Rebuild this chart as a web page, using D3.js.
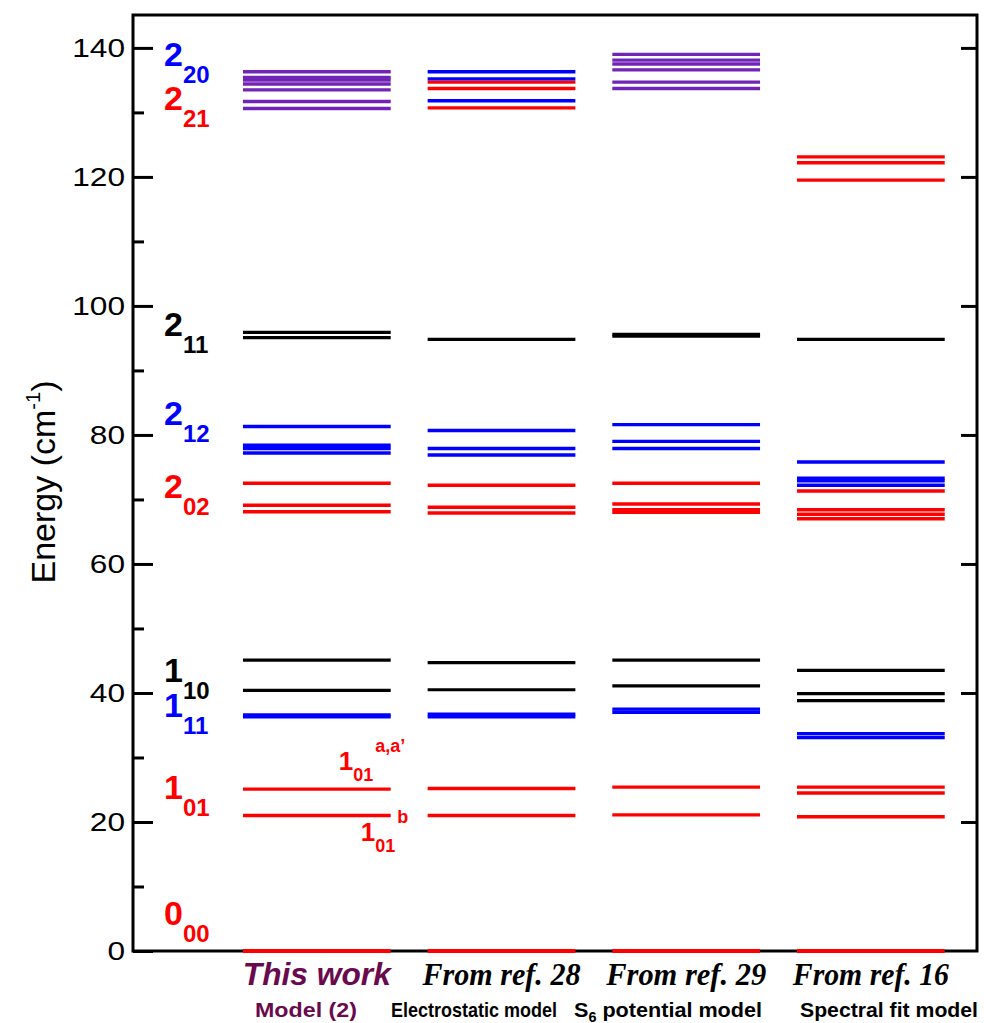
<!DOCTYPE html>
<html>
<head>
<meta charset="utf-8">
<script src="https://cdn.jsdelivr.net/npm/d3@7"></script>
<style>
  body { margin: 0; background: white; }
</style>
</head>
<body>
<svg id="chart"></svg>
<script>
// column titles
var columns = ["This work", "From ref. 28", "From ref. 29", "From ref. 16"];
var models = ["Model (2)", "Electrostatic model", "S6 potential model", "Spectral fit model"];

// energy levels (cm-1), one list per column
var e000 = [[0], [0], [0], [0]];
var e101 = [[21.0, 25.1], [21.0, 25.2], [21.1, 25.4], [20.8, 24.5, 25.4]];
var e111 = [[36.3, 36.6], [36.3, 36.7], [37.0, 37.5], [33.1, 33.7]];
var e110 = [[40.4, 45.1], [40.5, 44.7], [41.1, 45.1], [38.8, 39.9, 43.5]];
var e202 = [[68.1, 69.1, 72.5], [67.9, 68.8, 72.2], [68.0, 68.4, 69.3, 72.5], [67.0, 67.7, 68.4, 71.3]];
var e212 = [[77.2, 77.9, 78.4, 81.3], [76.9, 77.9, 80.7], [77.9, 79.0, 81.6], [72.2, 72.9, 73.3, 75.8]];
var e211 = [[95.1, 95.9], [94.8], [95.3, 95.6], [94.8]];
var e221 = [[], [130.7, 133.7, 134.7], [], [119.5, 122.2, 123.1]];
var e220 = [[], [131.8, 135.2, 136.3], [], []];
var e22mix = [[130.6, 131.7, 133.5, 134.4, 135.0, 135.4, 136.3], [], [133.7, 134.7, 136.6, 137.5, 138.1, 139.0], []];

var yTicks = [0, 20, 40, 60, 80, 100, 120, 140];
var yMinor = [10, 30, 50, 70, 90, 110, 130];

// state labels on the left: main number, subscript, energy of label
var stateMain = ["2", "2", "2", "2", "2", "1", "1", "1", "0"];
var stateSub = ["20", "21", "11", "12", "02", "10", "11", "01", "00"];
var stateEnergy = [137.2, 130.3, 95.3, 81.6, 70.3, 41.7, 36.3, 23.6, 4.0];

var red = "#ff0000", blue = "#0000ff", black = "#000000", purple = "#7124b6";
var stateColor = [blue, red, black, blue, red, black, blue, red, red];

var groups = [
  {v: e000, c: red, w: 4},
  {v: e101, c: red, w: 3.4},
  {v: e111, c: blue, w: 3.4},
  {v: e110, c: black, w: 3.2},
  {v: e202, c: red, w: 3.4},
  {v: e212, c: blue, w: 3.4},
  {v: e211, c: black, w: 3.2},
  {v: e221, c: red, w: 3.4},
  {v: e220, c: blue, w: 3.4},
  {v: e22mix, c: purple, w: 3.4}
];

var W = 984, H = 1023;
var mLeft = 133, mRight = 977, mTop = 15, mBottom = 951;
var sans = "Liberation Sans, Arial, sans-serif";
var serif = "Liberation Serif, Times New Roman, serif";

var svg = d3.select("#chart")
            .attr("width", W).attr("height", H)
            .attr("font-family", sans);

var y = d3.scaleLinear().domain([0, 145.1]).range([mBottom, mTop]);
var x = d3.scaleBand().domain(columns).range([224.5, 963.2])
          .paddingInner(0.2).paddingOuter(0.1);

/* axes */
svg.append("g")
   .attr("transform", "translate(" + mLeft + ",0)")
   .call(d3.axisLeft(y).tickValues(yTicks).tickSize(-20).tickPadding(8))
   .call(function(g) {
     g.select(".domain").remove();
     g.selectAll(".tick line").attr("stroke-width", 3);
     g.selectAll(".tick text")
      .attr("font-size", 26)
      .attr("font-family", sans)
      .attr("textLength", function(d) { return String(d).length * 17.6; })
      .attr("lengthAdjust", "spacingAndGlyphs");
   });

svg.append("g")
   .attr("transform", "translate(" + mLeft + ",0)")
   .call(d3.axisLeft(y).tickValues(yMinor).tickSize(-11).tickFormat(""))
   .call(function(g) {
     g.select(".domain").remove();
     g.selectAll(".tick line").attr("stroke-width", 3);
   });

svg.append("g")
   .attr("transform", "translate(" + mRight + ",0)")
   .call(d3.axisRight(y).tickValues(yTicks.slice(1)).tickSize(-16).tickFormat(""))
   .call(function(g) {
     g.select(".domain").remove();
     g.selectAll(".tick line").attr("stroke-width", 3);
   });

svg.append("rect")
   .attr("x", mLeft).attr("y", mTop)
   .attr("width", mRight - mLeft).attr("height", mBottom - mTop)
   .attr("fill", "none").attr("stroke", "black").attr("stroke-width", 3);

/* energy levels */
var levels = [];
groups.forEach(function(gr)
{
  gr.v.forEach(function(list, i)
  {
    list.forEach(function(e)
    {
      levels.push({col: columns[i], e: e, c: gr.c, w: gr.w});
    });
  });
});

svg.selectAll("line.level")
   .data(levels)
   .enter()
   .append("line")
   .attr("class", "level")
   .attr("x1", function(d) { return x(d.col); })
   .attr("x2", function(d) { return x(d.col) + x.bandwidth(); })
   .attr("y1", function(d) { return y(d.e); })
   .attr("y2", function(d) { return y(d.e); })
   .attr("stroke", function(d) { return d.c; })
   .attr("stroke-width", function(d) { return d.w; });

/* state labels on the left */
var lab = svg.selectAll("text.state")
   .data(stateMain)
   .enter()
   .append("text")
   .attr("class", "state")
   .attr("x", 164)
   .attr("y", function(d, i) { return y(stateEnergy[i]); })
   .attr("fill", function(d, i) { return stateColor[i]; })
   .attr("font-weight", "bold");

lab.append("tspan").attr("font-size", 34).text(function(d) { return d; });
lab.append("tspan").attr("font-size", 24).attr("dy", 17)
   .text(function(d, i) { return stateSub[i]; });

/* labels next to the 1_01 levels */
var c0 = x(columns[0]) + x.bandwidth();
var t1 = svg.append("text")
   .attr("x", c0 - 52).attr("y", y(e101[0][1]) - 19)
   .attr("fill", red).attr("font-weight", "bold");
t1.append("tspan").attr("font-size", 26).text("1");
t1.append("tspan").attr("font-size", 18).attr("dy", 11).text("01");
t1.append("tspan").attr("font-size", 18).attr("dy", -29).attr("dx", 2).text("a,a\u2019");

var t2 = svg.append("text")
   .attr("x", c0 - 30).attr("y", y(e101[0][0]) + 25)
   .attr("fill", red).attr("font-weight", "bold");
t2.append("tspan").attr("font-size", 26).text("1");
t2.append("tspan").attr("font-size", 18).attr("dy", 11).text("01");
t2.append("tspan").attr("font-size", 18).attr("dy", -29).attr("dx", 2).text("b");

/* y title */
var yt = svg.append("text")
   .attr("transform", "translate(55," + 482 + ") rotate(-90)")
   .attr("text-anchor", "middle")
   .attr("font-size", 34);
yt.append("tspan").text("Energy (cm");
yt.append("tspan").attr("font-size", 20).attr("dy", -15).text("-1");
yt.append("tspan").attr("dy", 15).text(")");

/* column titles */
var titleW = [148, 158, 160, 156];
svg.selectAll("text.coltitle")
   .data(columns)
   .enter()
   .append("text")
   .attr("class", "coltitle")
   .attr("x", function(d) { return x(d) + x.bandwidth() / 2; })
   .attr("y", 985)
   .attr("text-anchor", "middle")
   .attr("font-style", "italic")
   .attr("font-weight", "bold")
   .attr("font-family", function(d, i) { return i == 0 ? sans : serif; })
   .attr("font-size", 31)
   .attr("fill", function(d, i) { return i == 0 ? "#6a0a4e" : "black"; })
   .attr("textLength", function(d, i) { return titleW[i]; })
   .attr("lengthAdjust", "spacingAndGlyphs")
   .text(function(d) { return d; });

var modelW = [102, 166, 188, 178];
var modelX = [306, 474, 668, 889];
var mt = svg.selectAll("text.model")
   .data(models)
   .enter()
   .append("text")
   .attr("class", "model")
   .attr("x", function(d, i) { return modelX[i]; })
   .attr("y", 1017)
   .attr("text-anchor", "middle")
   .attr("font-weight", "bold")
   .attr("font-size", 21)
   .attr("fill", function(d, i) { return i == 0 ? "#6a0a4e" : "black"; })
   .attr("textLength", function(d, i) { return modelW[i]; })
   .attr("lengthAdjust", "spacingAndGlyphs");

mt.each(function(d, i)
{
  var t = d3.select(this);
  if (d.indexOf("S6") == 0)
  {
    t.append("tspan").text("S");
    t.append("tspan").attr("font-size", 14).attr("dy", 5).text("6");
    t.append("tspan").attr("dy", -5).text(" potential model");
  }
  else
  {
    t.text(d);
  }
});
</script>
</body>
</html>
